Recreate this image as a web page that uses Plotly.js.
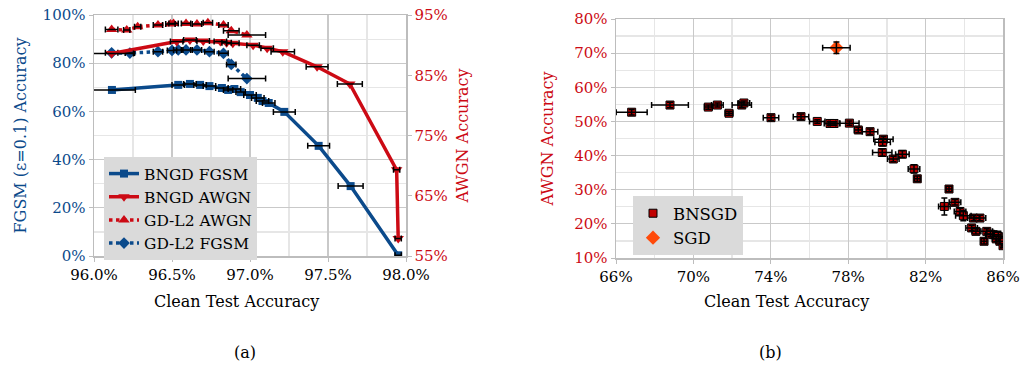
<!DOCTYPE html>
<html>
<head>
<meta charset="utf-8">
<script src="https://cdn.plot.ly/plotly-3.0.1.min.js"></script>
<style>
  html, body { margin: 0; padding: 0; background: #ffffff; }
  #chart { width: 1021px; height: 371px; }
</style>
</head>
<body>
<div id="chart"></div>
<script>
// ---- (a) clean accuracy vs. robustness, BNGD and GD-L2 ----
const bngdFgsmX   = [96.115, 96.54, 96.615, 96.68, 96.74, 96.82, 96.86, 96.90, 96.94, 97.00, 97.05, 97.08, 97.12, 97.22, 97.44, 97.645, 97.95];
const bngdFgsmY   = [68.9, 71.0, 71.4, 71.0, 70.5, 69.7, 68.9, 69.3, 68.0, 66.8, 65.6, 64.3, 63.5, 59.8, 45.7, 29.0, 0.3];
const bngdFgsmErr = [0.15, 0.04, 0.04, 0.04, 0.04, 0.04, 0.03, 0.04, 0.03, 0.04, 0.04, 0.04, 0.04, 0.07, 0.07, 0.08, 0.02];

const bngdAwgnX   = [96.113, 96.53, 96.615, 96.70, 96.81, 96.85, 96.89, 97.02, 97.11, 97.21, 97.43, 97.64, 97.94, 97.95];
const bngdAwgnY   = [88.6, 90.6, 90.85, 90.7, 90.6, 90.4, 90.3, 90.0, 89.5, 88.9, 86.4, 83.55, 69.3, 57.9];
const bngdAwgnErr = [0.14, 0.04, 0.04, 0.04, 0.04, 0.03, 0.04, 0.04, 0.04, 0.075, 0.07, 0.08, 0.02, 0.02];

const gdAwgnX   = [96.113, 96.21, 96.28, 96.41, 96.49, 96.51, 96.59, 96.66, 96.73, 96.83, 96.88, 96.98];
const gdAwgnY   = [92.6, 92.5, 93.05, 93.35, 93.5, 93.6, 93.6, 93.5, 93.7, 93.35, 92.4, 91.7];
const gdAwgnErr = [0.04, 0.02, 0.02, 0.03, 0.03, 0.03, 0.03, 0.03, 0.03, 0.03, 0.05, 0.12];

const gdFgsmX   = [96.113, 96.23, 96.41, 96.50, 96.54, 96.59, 96.66, 96.74, 96.83, 96.88, 96.98];
const gdFgsmY   = [84.3, 84.2, 84.8, 85.3, 85.5, 85.5, 85.5, 84.8, 84.1, 79.5, 73.6];
const gdFgsmErr = [0.04, 0.03, 0.03, 0.03, 0.03, 0.03, 0.03, 0.03, 0.03, 0.03, 0.12];

// ---- (b) AWGN accuracy vs. clean accuracy, BNSGD runs and SGD ----
const bnsgdX    = [66.81, 68.79, 70.77, 71.24, 71.84, 72.50, 72.61, 74.01, 75.56, 76.40, 77.06, 77.27, 78.06, 78.52, 79.13, 79.82, 79.78, 79.76, 80.33, 80.80, 81.40, 81.57, 83.21, 82.97, 83.52, 83.78, 83.95, 84.47, 84.81, 84.38, 84.60, 85.16, 85.02, 85.50, 85.76, 85.84, 86.00, 85.35, 85.65];
const bnsgdY    = [52.7, 54.8, 54.2, 54.8, 52.4, 54.8, 55.4, 51.1, 51.4, 50.0, 49.4, 49.4, 49.5, 47.5, 47.0, 44.8, 43.9, 40.9, 39.0, 40.4, 36.1, 33.2, 30.2, 25.1, 26.3, 23.6, 22.4, 21.7, 21.7, 18.8, 17.8, 17.8, 14.9, 16.8, 16.3, 14.9, 13.6, 17.0, 15.6];
const bnsgdXErr = [0.8, 0.95, 0.2, 0.3, 0.2, 0.5, 0.3, 0.4, 0.4, 0.4, 0.3, 0.3, 0.5, 0.2, 0.4, 0.5, 0.4, 0.5, 0.3, 0.35, 0.3, 0.15, 0.15, 0.3, 0.3, 0.3, 0.4, 0.3, 0.3, 0.3, 0.2, 0.3, 0.15, 0.4, 0.3, 0.2, 0.1, 0.2, 0.2];
const bnsgdYErr = [0.8, 0.8, 0.6, 0.6, 0.6, 0.8, 0.6, 0.8, 0.8, 0.5, 0.5, 0.5, 0.6, 0.8, 0.8, 0.8, 1.0, 1.0, 0.8, 1.0, 1.2, 0.8, 0.8, 2.5, 0.8, 1.0, 1.5, 0.8, 0.8, 0.8, 0.8, 0.8, 0.8, 1.0, 1.5, 0.8, 0.6, 0.8, 0.8];

const sgdX = [77.39], sgdY = [71.6], sgdXErr = [0.71], sgdYErr = [1.7];

const BLUE = '#0b4a8b';
const RED = '#cc0a14';
const ORANGE = '#ff4a0a';
const FONT = "'DejaVu Serif', 'Liberation Serif', serif";

// Error bars drawn as their own layer so they sit above the markers.
function errLayer(x, y, ex, ey, xa, ya) {
  const t = {
    x: x, y: y, xaxis: xa, yaxis: ya, type: 'scatter', mode: 'markers',
    marker: { size: 1, opacity: 0 }, showlegend: false, hoverinfo: 'skip',
    error_x: { type: 'data', array: ex, visible: true, color: '#000', thickness: 1.5, width: 3 }
  };
  if (ey) t.error_y = { type: 'data', array: ey, visible: true, color: '#000', thickness: 1.5, width: 3 };
  return t;
}

const traces = [
  { name: 'BNGD FGSM', x: bngdFgsmX, y: bngdFgsmY, xaxis: 'x', yaxis: 'y', type: 'scatter', mode: 'lines+markers',
    line: { color: BLUE, width: 3.5 }, marker: { symbol: 'square', size: 8, color: BLUE }, legend: 'legend' },
  { name: 'BNGD AWGN', x: bngdAwgnX, y: bngdAwgnY, xaxis: 'x', yaxis: 'y2', type: 'scatter', mode: 'lines+markers',
    line: { color: RED, width: 3.5 }, marker: { symbol: 'triangle-down', size: 10, color: RED }, legend: 'legend' },
  { name: 'GD-L2 AWGN', x: gdAwgnX, y: gdAwgnY, xaxis: 'x', yaxis: 'y2', type: 'scatter', mode: 'lines+markers',
    line: { color: RED, width: 3.5, dash: 'dot' }, marker: { symbol: 'triangle-up', size: 10, color: RED }, legend: 'legend' },
  { name: 'GD-L2 FGSM', x: gdFgsmX, y: gdFgsmY, xaxis: 'x', yaxis: 'y', type: 'scatter', mode: 'lines+markers',
    line: { color: BLUE, width: 3.5, dash: 'dot' }, marker: { symbol: 'diamond', size: 9, color: BLUE }, legend: 'legend' },

  errLayer(bngdFgsmX, bngdFgsmY, bngdFgsmErr, null, 'x', 'y'),
  errLayer(gdFgsmX, gdFgsmY, gdFgsmErr, null, 'x', 'y'),
  errLayer(bngdAwgnX, bngdAwgnY, bngdAwgnErr, null, 'x', 'y2'),
  errLayer(gdAwgnX, gdAwgnY, gdAwgnErr, null, 'x', 'y2'),

  { name: 'BNSGD', x: bnsgdX, y: bnsgdY, xaxis: 'x2', yaxis: 'y3', type: 'scatter', mode: 'markers',
    marker: { symbol: 'square', size: 8, color: '#c00000', line: { color: '#000', width: 1 } }, legend: 'legend2' },
  { name: 'SGD', x: sgdX, y: sgdY, xaxis: 'x2', yaxis: 'y3', type: 'scatter', mode: 'markers',
    marker: { symbol: 'diamond', size: 11, color: ORANGE }, legend: 'legend2' },
  errLayer(bnsgdX, bnsgdY, bnsgdXErr, bnsgdYErr, 'x2', 'y3'),
  errLayer(sgdX, sgdY, sgdXErr, sgdYErr, 'x2', 'y3')
];

const W = 1021, H = 371;
const px = v => v / W;
const py = v => 1 - v / H;

const AX = '#bdbdbd', GRID = '#c9c9c9', MINOR = '#e6e6e6';
const tickFont = c => ({ family: FONT, size: 15, color: c });
const titleFont = c => ({ family: FONT, size: 16, color: c });

// Centered paper-space label
const label = (text, x, y, font) => ({
  text: text, xref: 'paper', yref: 'paper', x: px(x), y: py(y),
  xanchor: 'center', yanchor: 'middle', showarrow: false, font: font
});

const layout = {
  width: W, height: H,
  margin: { l: 0, r: 0, t: 0, b: 0 },
  paper_bgcolor: '#ffffff', plot_bgcolor: '#ffffff',
  font: { family: FONT, size: 15, color: '#000' },
  showlegend: true,
  xaxis: {
    domain: [px(94), px(406)], anchor: 'y', range: [96, 98], dtick: 0.5, tick0: 96,
    tickformat: '.1f', ticksuffix: '%', tickfont: tickFont('#000'),
    showgrid: true, gridcolor: GRID, gridwidth: 1.2,
    minor: { dtick: 0.25, showgrid: true, gridcolor: MINOR, ticks: '' },
    showline: true, linecolor: AX, linewidth: 1.5, mirror: true,
    ticks: 'outside', ticklen: 4, tickcolor: AX, zeroline: false
  },
  yaxis: {
    domain: [py(256), py(15)], anchor: 'x', range: [0, 100], dtick: 20,
    ticksuffix: '%', tickfont: tickFont(BLUE),
    showgrid: true, gridcolor: GRID, gridwidth: 1.2,
    minor: { dtick: 10, showgrid: true, gridcolor: MINOR, ticks: '' },
    showline: true, linecolor: AX, linewidth: 1.5,
    ticks: 'outside', ticklen: 4, tickcolor: AX, zeroline: false,
    title: { text: 'FGSM (ε=0.1) Accuracy', font: titleFont(BLUE), standoff: 12 }
  },
  yaxis2: {
    overlaying: 'y', side: 'right', anchor: 'x', range: [55, 95], dtick: 10, tick0: 55,
    ticksuffix: '%', tickfont: tickFont(RED),
    showgrid: false, showline: true, linecolor: AX, linewidth: 1.5,
    ticks: 'outside', ticklen: 4, tickcolor: AX, zeroline: false,
    title: { text: 'AWGN Accuracy', font: titleFont(RED), standoff: 10 }
  },
  xaxis2: {
    domain: [px(616), px(1003)], anchor: 'y3', range: [66, 86], dtick: 4, tick0: 66,
    ticksuffix: '%', tickfont: tickFont('#000'),
    showgrid: true, gridcolor: GRID, gridwidth: 1.2,
    minor: { dtick: 2, showgrid: true, gridcolor: MINOR, ticks: '' },
    showline: true, linecolor: AX, linewidth: 1.5, mirror: true,
    ticks: 'outside', ticklen: 4, tickcolor: AX, zeroline: false
  },
  yaxis3: {
    domain: [py(258), py(19)], anchor: 'x2', range: [10, 80], dtick: 10,
    ticksuffix: '%', tickfont: tickFont(RED),
    showgrid: true, gridcolor: GRID, gridwidth: 1.2,
    minor: { dtick: 5, showgrid: true, gridcolor: MINOR, ticks: '' },
    showline: true, linecolor: AX, linewidth: 1.5, mirror: true,
    ticks: 'outside', ticklen: 4, tickcolor: AX, zeroline: false,
    title: { text: 'AWGN Accuracy', font: titleFont(RED), standoff: 16 }
  },
  legend: {
    x: px(104), y: py(157), xanchor: 'left', yanchor: 'top',
    bgcolor: '#dadada', borderwidth: 0,
    font: { family: FONT, size: 15.5, color: '#000' },
    tracegroupgap: 0
  },
  legend2: {
    x: px(633), y: py(196), xanchor: 'left', yanchor: 'top',
    bgcolor: '#dadada', borderwidth: 0,
    font: { family: FONT, size: 16.5, color: '#000' }
  },
  annotations: [
    label('Clean Test Accuracy', 236, 301, titleFont('#000')),
    label('Clean Test Accuracy', 786, 301, titleFont('#000')),
    label('(a)', 245, 352, { family: FONT, size: 16, color: '#000' }),
    label('(b)', 770, 352, { family: FONT, size: 16, color: '#000' })
  ]
};

Plotly.newPlot('chart', traces, layout, { displayModeBar: false, staticPlot: true });
</script>
</body>
</html>
